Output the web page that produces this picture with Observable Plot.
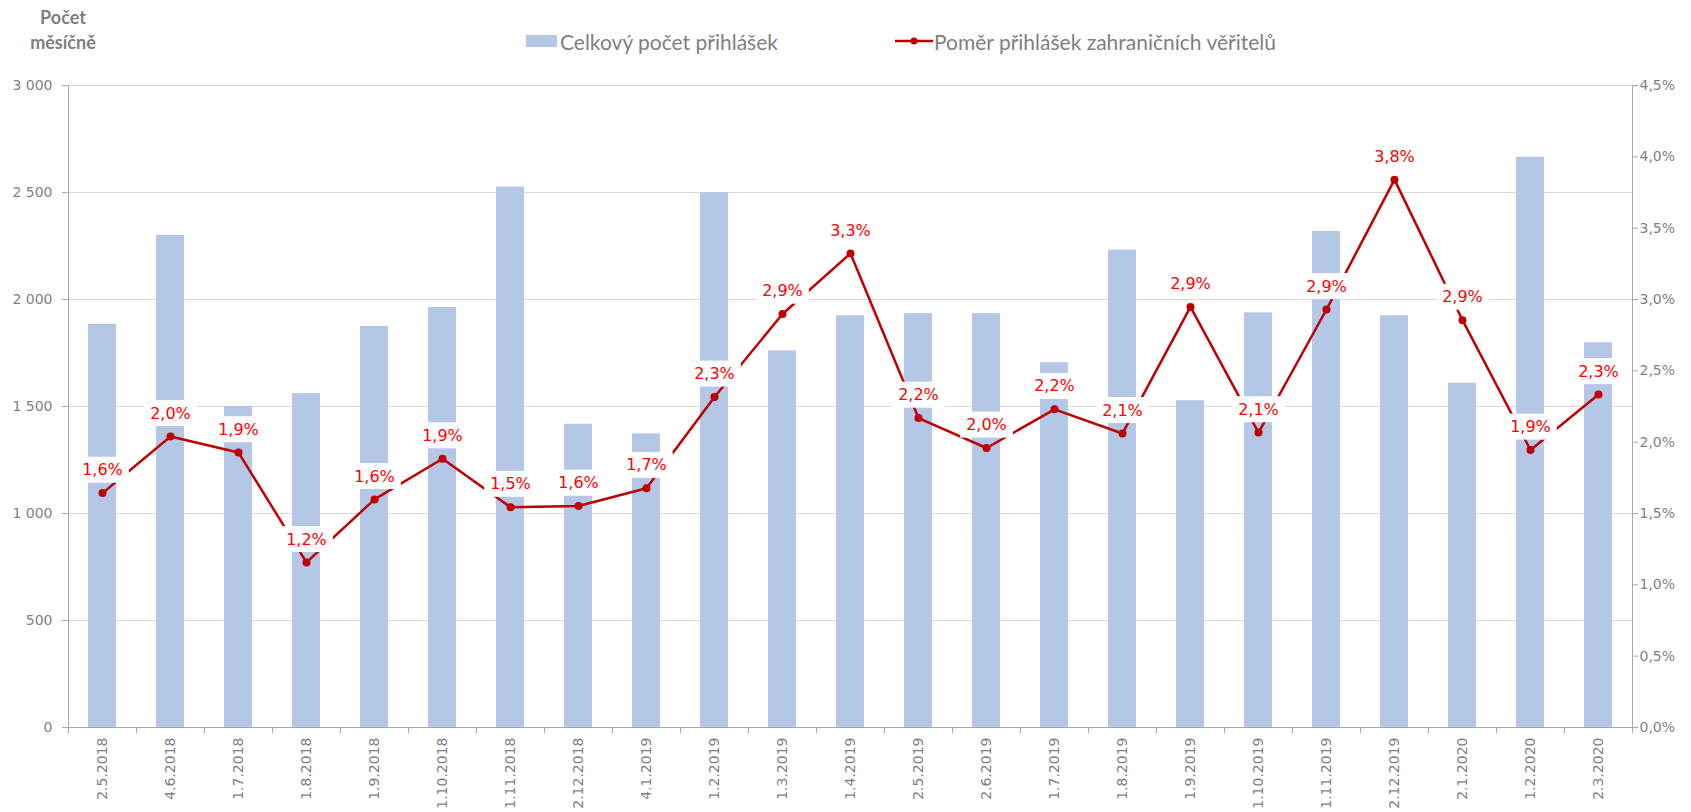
<!DOCTYPE html>
<html>
<head>
<meta charset="utf-8">
<script src="https://cdn.jsdelivr.net/npm/d3@7"></script>
<script src="https://cdn.jsdelivr.net/npm/@observablehq/plot@0.6"></script>
<style>
  html, body { margin: 0; padding: 0; background: #fff; }
  #wrap { position: relative; width: 1691px; height: 812px; overflow: hidden; }
  #header { position: relative; width: 1691px; height: 60px; }
  .ytitle { position: absolute; left: 8px; top: 5px; width: 110px; text-align: center;
            font-family: Lato, "Open Sans", sans-serif; font-weight: bold; font-size: 18px;
            line-height: 25px; color: #7f7f7f; }
  .leg { position: absolute; top: 27px; height: 28px; display: flex; align-items: center;
         font-family: Lato, "Open Sans", sans-serif; font-size: 21px; color: #7f7f7f; white-space: nowrap; }
  .sw { display: inline-block; width: 31px; height: 12px; background: #b4c7e7; margin-right: 3px; }
</style>
</head>
<body>
<div id="wrap">
  <div id="header">
    <div class="ytitle">Počet<br>měsíčně</div>
    <div class="leg" style="left:526px"><span class="sw"></span><span>Celkový počet přihlášek</span></div>
    <div class="leg" style="left:895px"><svg width="38" height="12" style="margin-right:1px"><line x1="0" y1="6" x2="38" y2="6" stroke="#c00000" stroke-width="2.5"/><circle cx="19" cy="6" r="3.5" fill="#c00000"/></svg><span>Poměr přihlášek zahraničních věřitelů</span></div>
  </div>
  <div id="chart"></div>
</div>
<script>
// ---- data ----
const dates = ["2.5.2018","4.6.2018","1.7.2018","1.8.2018","1.9.2018","1.10.2018","1.11.2018","2.12.2018",
  "4.1.2019","1.2.2019","1.3.2019","1.4.2019","2.5.2019","2.6.2019","1.7.2019","1.8.2019","1.9.2019",
  "1.10.2019","1.11.2019","2.12.2019","2.1.2020","1.2.2020","2.3.2020"];
const totals = [1884,2300,1500,1560,1874,1963,2525,1417,1372,2500,1760,1924,1934,1934,1705,2231,1527,1938,2318,1924,1609,2665,1798];
const shares = [1.643,2.04,1.927,1.157,1.599,1.884,1.544,1.552,1.677,2.317,2.898,3.323,2.169,1.959,2.23,2.061,2.948,2.067,2.93,3.84,2.855,1.945,2.334];
const countTicks = [0,500,1000,1500,2000,2500,3000];
const pctTicks = [0,0.5,1,1.5,2,2.5,3,3.5,4,4.5];

const yMax = 3000, pMax = 4.5;
const toY = p => p / pMax * yMax;
const data = dates.map((d, i) => ({date: d, total: totals[i], share: shares[i]}));

const fmtN = v => d3.format(",")(v).replace(/,/g, " ");
const fmtP = v => d3.format(".1f")(v).replace(".", ",") + "%";

const W = 1691, H = 752, ML = 67, MR = 59, MT = 25, MB = 85;
const step = (W - ML - MR) / dates.length;
const axisGray = "#a6a6a6";

const chart = Plot.plot({
  width: W, height: H,
  marginLeft: ML, marginRight: MR, marginTop: MT, marginBottom: MB,
  style: {fontFamily: "DejaVu Sans, Verdana, sans-serif", fontSize: "14px", color: "#7f7f7f", background: "#fff"},
  x: {domain: dates, paddingInner: 0.59, paddingOuter: 0.295, label: null},
  y: {domain: [0, yMax], label: null},
  marks: [
    Plot.gridY(countTicks, {stroke: "#d9d9d9", strokeOpacity: 1}),
    Plot.barY(data, {x: "date", y: "total", fill: "#b4c7e7"}),
    Plot.ruleY([0], {stroke: axisGray}),
    Plot.ruleX([dates[0]], {y1: 0, y2: yMax, dx: -step / 2, stroke: axisGray}),
    Plot.ruleX([dates[dates.length - 1]], {y1: 0, y2: yMax, dx: step / 2, stroke: axisGray}),
    Plot.ruleX(dates, {y1: 0, y2: 0, insetBottom: -6, dx: -step / 2, stroke: axisGray}),
    Plot.ruleX([dates[dates.length - 1]], {y1: 0, y2: 0, insetBottom: -6, dx: step / 2, stroke: axisGray}),
    Plot.axisY(countTicks, {anchor: "left", tickSize: 5, tickPadding: 10, tickFormat: fmtN, stroke: axisGray, label: null}),
    Plot.axisY(pctTicks.map(toY), {anchor: "right", tickSize: 5, tickPadding: 2, tickFormat: v => fmtP(v / yMax * pMax), stroke: axisGray, label: null}),
    Plot.axisX({tickRotate: -90, tickSize: 0, tickPadding: 10, label: null}),
    Plot.line(data, {x: "date", y: d => toY(d.share), stroke: "#c00000", strokeWidth: 2.5}),
    Plot.dot(data, {x: "date", y: d => toY(d.share), r: 4, fill: "#c00000"}),
    Plot.text(data, {x: "date", y: d => toY(d.share), text: d => fmtP(d.share), dy: -23, fill: "#ff0000", fontSize: 16})
  ]
});
document.getElementById("chart").appendChild(chart);

// white boxes behind the value labels
const g = chart.querySelector('g[aria-label="text"]');
if (g) {
  g.querySelectorAll("text").forEach(t => {
    const b = t.getBBox();
    const r = document.createElementNS("http://www.w3.org/2000/svg", "rect");
    r.setAttribute("x", b.x - 6);
    r.setAttribute("y", b.y + b.height / 2 - 13);
    r.setAttribute("width", b.width + 12);
    r.setAttribute("height", 26);
    r.setAttribute("fill", "#fff");
    if (t.getAttribute("transform")) r.setAttribute("transform", t.getAttribute("transform"));
    g.insertBefore(r, t);
  });
}
</script>
</body>
</html>
